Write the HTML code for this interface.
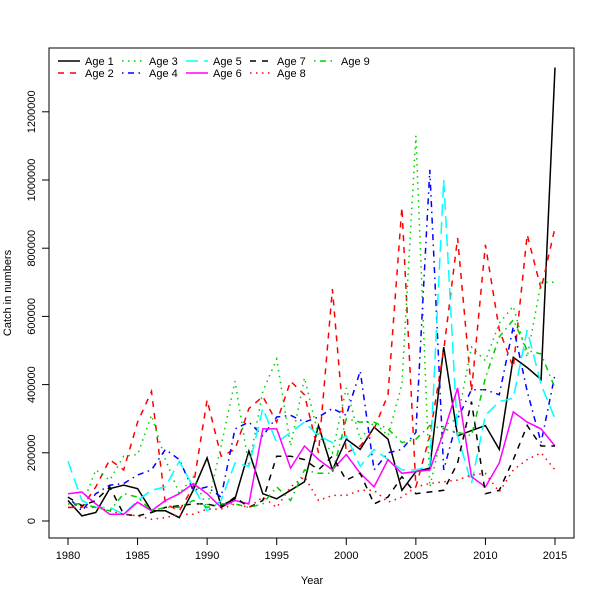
<!DOCTYPE html>
<html><head><meta charset="utf-8"><style>
body{margin:0;background:#fff}
text{font-family:"Liberation Sans",sans-serif;font-size:11px;fill:#000}
</style></head><body>
<svg id="chart" width="600" height="600" viewBox="0 0 600 600">
<rect x="0" y="0" width="600" height="600" fill="#fff"/>
<g id="plot"></g>
</svg>
<script>
const years = [];
for (let y = 1980; y <= 2015; y++) years.push(y);
const age1 = [60,15,25,95,105,95,30,30,10,90,185,45,65,205,80,65,90,115,280,150,240,210,275,240,90,145,155,510,250,265,280,210,480,450,415,1330];
const age2 = [40,40,100,180,150,290,380,50,30,100,355,190,210,330,365,290,410,370,200,680,200,220,270,370,920,100,250,500,830,380,810,560,450,840,680,860];
const age3 = [50,45,150,120,190,195,310,180,80,130,40,220,410,160,380,475,220,420,250,200,390,240,290,250,400,1130,100,280,300,510,470,580,630,480,700,700];
const age4 = [70,30,80,105,110,135,150,210,180,90,100,70,270,290,250,305,310,290,305,330,310,440,150,200,210,260,1030,150,300,385,385,370,570,380,230,430];
const age5 = [175,60,40,40,20,60,90,100,175,100,30,60,170,160,330,230,260,290,250,230,250,160,210,180,150,150,160,1000,250,110,310,350,360,560,400,300];
const age6 = [80,85,50,20,20,55,30,60,80,110,80,40,60,50,270,270,155,220,180,150,195,140,100,180,140,145,150,260,390,130,100,170,320,290,270,220];
const age7 = [70,45,60,100,20,15,25,40,45,50,50,40,70,40,60,190,190,180,150,190,120,140,50,70,130,80,85,90,170,350,80,90,180,280,220,220];
const age8 = [40,40,40,30,20,15,5,10,20,20,35,35,50,40,70,40,100,130,60,75,75,90,90,55,70,100,110,115,120,135,140,85,150,180,200,150];
const age9 = [50,50,40,30,80,70,30,40,40,60,40,50,50,40,50,100,60,150,140,140,300,290,290,270,230,240,280,270,260,250,420,540,590,500,490,390];
const seriesNames = ["Age 1","Age 2","Age 3","Age 4","Age 5","Age 6","Age 7","Age 8","Age 9"];
const seriesData = [age1,age2,age3,age4,age5,age6,age7,age8,age9];
const xTicks = [1980,1985,1990,1995,2000,2005,2010,2015];
const yTicks = [0,200000,400000,600000,800000,1000000,1200000];

const colors = ["#000","#f00","#00cd00","#00f","#0ff","#f0f","#000","#f00","#00cd00"];
const dashes = ["","6,6","1.5,4.5","1.5,4.5,6,4.5","12,6","","6,6","1.5,4.5","1.5,4.5,6,4.5"];
const NS = "http://www.w3.org/2000/svg";
const g = document.getElementById("plot");
const X = yr => 68 + (yr - 1980) * (487 / 35);
const Y = v => 521 - v * 0.000341;
function el(tag, attrs, parent) {
  const e = document.createElementNS(NS, tag);
  for (const k in attrs) e.setAttribute(k, attrs[k]);
  (parent || g).appendChild(e);
  return e;
}
const box = el("rect", {x:49, y:48, width:525, height:490, fill:"none", stroke:"#000", "stroke-width":1});



// series
seriesData.forEach((arr, i) => {
  const pts = arr.map((v, j) => X(years[j]).toFixed(1) + "," + Y(v * 1000).toFixed(1)).join(" ");
  const p = el("polyline", {points: pts, fill:"none", stroke: colors[i], "stroke-width":1.5, "stroke-dasharray": dashes[i]});
  
  
});

// x axis
xTicks.forEach(t => {
  const l = el("line", {x1:X(t), x2:X(t), y1:538, y2:545, stroke:"#000"});
  
  
  const tx = el("text", {x:X(t), y:559, "text-anchor":"middle"});
  tx.textContent = t;
  
  
});
const xl = el("line", {x1:X(1980), x2:X(2015), y1:538, y2:538, stroke:"#000"});


// y axis
yTicks.forEach(t => {
  const l = el("line", {x1:42, x2:49, y1:Y(t), y2:Y(t), stroke:"#000"});
  
  
  const tx = el("text", {x:35, y:Y(t), "text-anchor":"middle", transform:"rotate(-90 35 " + Y(t) + ")"});
  tx.textContent = t;
  
  
});
const yl = el("line", {x1:49, x2:49, y1:Y(0), y2:Y(1200000), stroke:"#000"});


const xt = el("text", {x:312, y:584, "text-anchor":"middle"});
xt.textContent = "Year";


const yt = el("text", {x:11, y:293, "text-anchor":"middle", transform:"rotate(-90 11 293)"});
yt.textContent = "Catch in numbers";



// legend
seriesNames.forEach((n, i) => {
  const col = Math.floor(i / 2), row = i % 2;
  const lx = 58 + col * 64, ly = 61 + row * 12;
  const l = el("line", {x1:lx, x2:lx + 22, y1:ly, y2:ly, stroke:colors[i], "stroke-width":1.5, "stroke-dasharray":dashes[i]});
  
  
  const tx = el("text", {x:lx + 27, y:ly + 4});
  tx.textContent = n;
  
  
});
</script>
</body></html>
